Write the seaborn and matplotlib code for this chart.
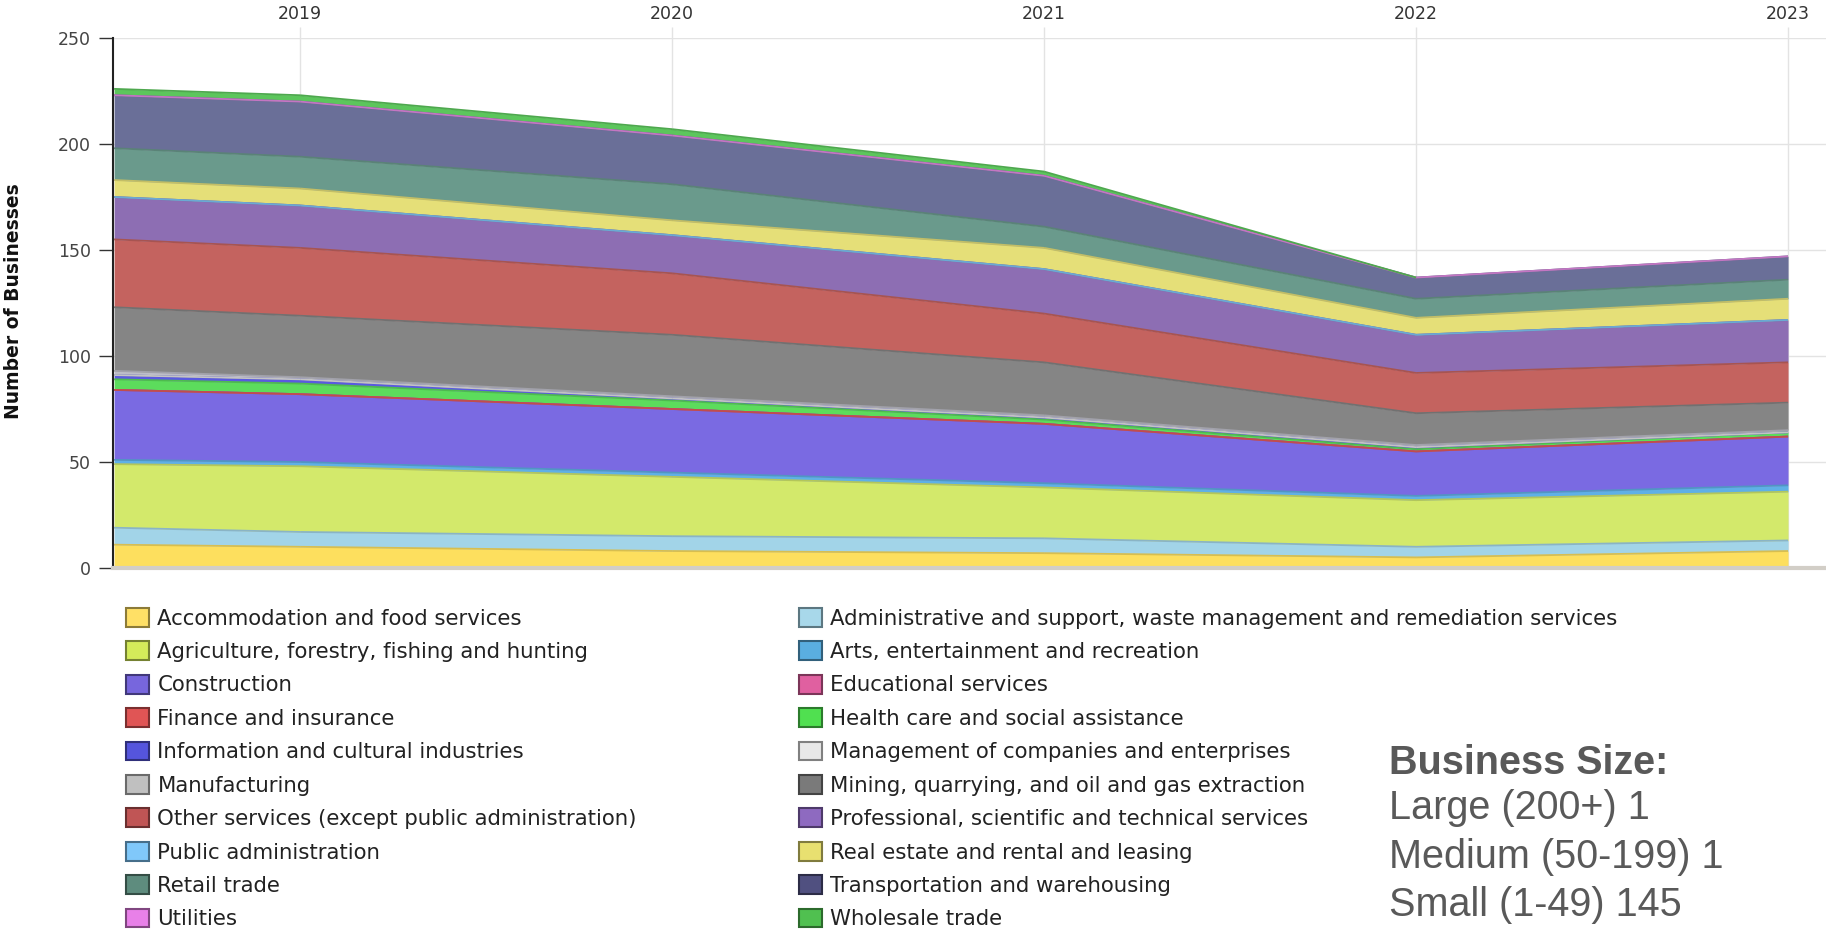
import numpy as np
import pandas as pd
import matplotlib
matplotlib.use("Agg")
import matplotlib.pyplot as plt
from matplotlib.patches import Patch
import matplotlib.colors as mcolors
import seaborn as sns

# ---------------- data ----------------
years = [2018.5, 2019, 2020, 2021, 2022, 2023]
year_ticks = [2019, 2020, 2021, 2022, 2023]
year_labels = ["2019", "2020", "2021", "2022", "2023"]
y_ticks = [0, 50, 100, 150, 200, 250]

industries = [
    "Accommodation and food services",
    "Administrative and support, waste management and remediation services",
    "Agriculture, forestry, fishing and hunting",
    "Arts, entertainment and recreation",
    "Construction",
    "Educational services",
    "Finance and insurance",
    "Health care and social assistance",
    "Information and cultural industries",
    "Management of companies and enterprises",
    "Manufacturing",
    "Mining, quarrying, and oil and gas extraction",
    "Other services (except public administration)",
    "Professional, scientific and technical services",
    "Public administration",
    "Real estate and rental and leasing",
    "Retail trade",
    "Transportation and warehousing",
    "Utilities",
    "Wholesale trade",
]

accommodation = [11, 10, 8, 7, 5, 8]
administrative = [8, 7, 7, 7, 5, 5]
agriculture = [30, 31, 28, 24, 22, 23]
arts = [2, 2, 2, 2, 2, 3]
construction = [33, 32, 30, 28, 21, 23]
educational = [0, 0, 0, 0, 0, 0]
finance = [0, 0, 0, 0, 0, 0]
health = [5, 5, 4, 2, 1, 2]
information = [2, 2, 1, 1, 1, 0]
management = [0, 0, 0, 0, 0, 0]
manufacturing = [2, 1, 1, 1, 1, 1]
mining = [30, 29, 29, 25, 15, 13]
other_services = [32, 32, 29, 23, 19, 19]
professional = [20, 20, 18, 21, 18, 20]
public_admin = [0, 0, 0, 0, 0, 0]
real_estate = [8, 8, 7, 10, 8, 10]
retail = [15, 15, 17, 10, 9, 9]
transportation = [25, 26, 23, 24, 10, 11]
utilities = [0, 0, 0, 0, 0, 0]
wholesale = [3, 3, 3, 2, 0, 0]

series = [accommodation, administrative, agriculture, arts, construction,
          educational, finance, health, information, management,
          manufacturing, mining, other_services, professional, public_admin,
          real_estate, retail, transportation, utilities, wholesale]

colors = ["#FDDF5E", "#A2D4E8", "#D3E96B", "#5FB0E6", "#7A6AE2",
          "#E05FA0", "#E25A5A", "#5CDC5C", "#5A5AE0", "#E6E6E6",
          "#BDBDC8", "#858585", "#C4635F", "#8D6EB3", "#7EC8F8",
          "#E5DF78", "#6A9A8C", "#6A6F98", "#E58BE5", "#5CC65C"]

legend_colors = ["#FFE066", "#A8D8EA", "#D4EB5A", "#5AAEE0", "#7766DD",
                 "#E060A0", "#E05555", "#50E050", "#5555DD", "#E8E8E8",
                 "#C0C0C0", "#7A7A7A", "#C05555", "#8E6AC0", "#80C8FA",
                 "#E8E070", "#5E8C7E", "#505080", "#E880E8", "#50C050"]

size_title = "Business Size:"
size_lines = ["Large (200+) 1", "Medium (50-199) 1", "Small (1-49) 145"]

# ---------------- plot ----------------
sns.set_theme(style="white")
plt.rcParams["font.family"] = ["DejaVu Sans"]

W, H = 1826, 931
fig = plt.figure(figsize=(W / 100, H / 100), dpi=100)
ax = fig.add_axes([113 / W, 1 - 568 / H, 1 - 113 / W, (568 - 38) / H])

df = pd.DataFrame(dict(zip(industries, series)), index=years)
cum = df.cumsum(axis=1)
x = np.array(years, dtype=float)


def darker(c, f=0.8):
    r, g, b = mcolors.to_rgb(c)
    return (r * f, g * f, b * f)


lower = np.zeros(len(x))
for name, col in zip(industries, colors):
    upper = cum[name].values.astype(float)
    ax.fill_between(x, lower, upper, color=col, lw=0, zorder=2)
    lower = upper

# top edge line of each layer
for name, col in zip(industries, colors):
    vals = df[name].values
    top = cum[name].values.astype(float)
    all_zero = vals.sum() == 0
    for i in range(len(x) - 1):
        if all_zero or vals[i] > 0 or vals[i + 1] > 0:
            ax.plot(x[i:i + 2], top[i:i + 2], color=darker(col, 0.85),
                    lw=1.3, zorder=3, solid_capstyle="butt")

ax.set_xlim(2018.497, 2023.102)
ax.set_ylim(0, 250)
ax.set_yticks(y_ticks)
ax.set_xticks(year_ticks)
ax.set_xticklabels(year_labels)
ax.xaxis.tick_top()
ax.grid(True, color="#e3e3e3", lw=1, zorder=0)
ax.set_axisbelow(True)

ax.tick_params(axis="x", top=True, bottom=False, length=8, width=1,
               color="#e3e3e3", pad=3, labelsize=12.5, labelcolor="#333333")
ax.tick_params(axis="y", left=True, length=10, width=1, color="#333333",
               pad=6, labelsize=12.5, labelcolor="#444444")

for s in ["top", "right"]:
    ax.spines[s].set_visible(False)
ax.spines["left"].set_color("#222222")
ax.spines["left"].set_linewidth(1.5)
ax.spines["bottom"].set_color("#d2cec7")
ax.spines["bottom"].set_linewidth(3)

ax.set_ylabel("Number of Businesses", fontsize=13.5, fontweight="bold",
              color="#111111")
ax.yaxis.set_label_coords(-0.0525, 0.504)

# legends (alphabetical order alternating between two columns)
handles = [Patch(facecolor=c, edgecolor=darker(c, 0.55), lw=1.5)
           for c in legend_colors]
col1 = list(range(0, 20, 2))
col2 = list(range(1, 20, 2))
leg_kw = dict(frameon=False, loc="upper left", fontsize=15.3, borderpad=0,
              borderaxespad=0, handlelength=1.08, handleheight=0.98,
              handletextpad=0.4, labelspacing=0.6, labelcolor="#222222")
fig.legend([handles[i] for i in col1], [industries[i] for i in col1],
           bbox_to_anchor=(126 / W, 1 - 608 / H), **leg_kw)
fig.legend([handles[i] for i in col2], [industries[i] for i in col2],
           bbox_to_anchor=(799 / W, 1 - 608 / H), **leg_kw)

fig.text(1389 / W, 1 - 763 / H, size_title, fontsize=28.5, fontweight="bold",
         color="#595959", va="center", ha="left", family="Liberation Sans")
for i, t in enumerate(size_lines):
    fig.text(1389 / W, 1 - (808 + 48.5 * i) / H, t, fontsize=28.5,
             color="#595959", va="center", ha="left",
             family="Liberation Sans")

fig.savefig("out.png", dpi=100)
